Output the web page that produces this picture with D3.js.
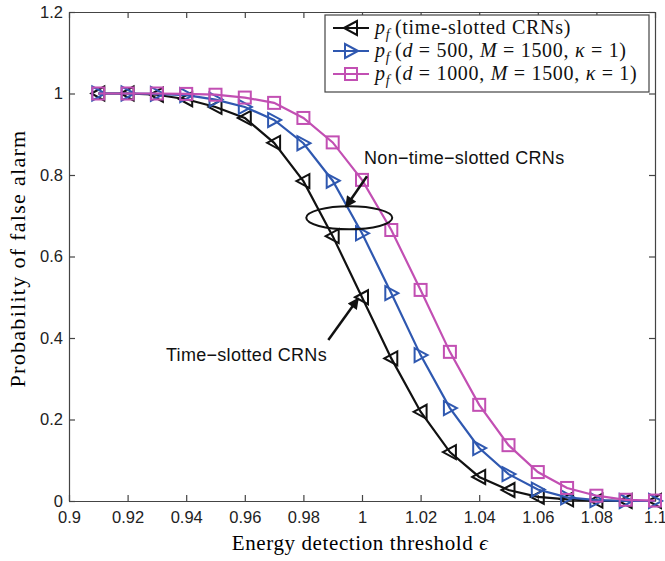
<!DOCTYPE html>
<html lang="en">
<head>
  <meta charset="utf-8">
  <title>Probability of false alarm</title>
  <style>
    body { margin: 0; background: #fff; overflow: hidden; }
    svg { display: block; }
  </style>
</head>
<body>
  <script src="https://d3js.org/d3.v7.min.js"></script>
  <svg width="665" height="561"></svg>
  <script>
    // threshold values
    var eps = [0.91, 0.92, 0.93, 0.94, 0.95, 0.96, 0.97, 0.98, 0.99, 1.00,
               1.01, 1.02, 1.03, 1.04, 1.05, 1.06, 1.07, 1.08, 1.09, 1.10];
    var pfSlotted = [1, 1, 0.997, 0.986, 0.967, 0.94, 0.879, 0.785, 0.65, 0.5,
                     0.35, 0.219, 0.12, 0.059, 0.027, 0.01, 0.004, 0.001, 0, 0];
    var pfD500 = [1, 1, 0.999, 0.996, 0.985, 0.967, 0.935, 0.878, 0.786, 0.657,
                  0.51, 0.358, 0.228, 0.13, 0.066, 0.028, 0.009, 0.002, 0, 0];
    var pfD1000 = [1, 1, 1, 0.999, 0.997, 0.99, 0.977, 0.94, 0.88, 0.788,
                   0.665, 0.518, 0.366, 0.236, 0.137, 0.071, 0.032, 0.013, 0.003, 0.001];
    var xTicks = [0.9, 0.92, 0.94, 0.96, 0.98, 1, 1.02, 1.04, 1.06, 1.08, 1.1];
    var yTicks = [0, 0.2, 0.4, 0.6, 0.8, 1, 1.2];

    var series = [
      { values: pfSlotted, color: "#111111", marker: "left" },
      { values: pfD500, color: "#2f58b0", marker: "right" },
      { values: pfD1000, color: "#c24fb3", marker: "square" }
    ];

    const margin = { left: 69, right: 10, top: 12, bottom: 60 };
    const svg = d3.select("svg");
    const width = +svg.attr("width");
    const height = +svg.attr("height");
    const innerWidth = width - margin.left - margin.right;
    const innerHeight = height - margin.top - margin.bottom;

    var x = d3.scaleLinear().domain([0.9, 1.1]).range([0, innerWidth]);
    var y = d3.scaleLinear().domain([0, 1.2]).range([innerHeight, 0]);

    var g = svg.append("g").attr("transform", "translate(" + margin.left + "," + margin.top + ")");

    var axisColor = "#444";
    var serif = "\"Liberation Serif\", \"Times New Roman\", serif";
    var sans = "\"Liberation Sans\", Arial, sans-serif";
    var fmt = function (d) { return d3.format("~g")(d); };

    // axes with inward ticks on all four sides
    var xAxisG = g.append("g").attr("transform", "translate(0," + innerHeight + ")")
      .call(d3.axisBottom(x).tickValues(xTicks).tickFormat(fmt).tickSizeInner(-6).tickSizeOuter(0).tickPadding(10));
    var yAxisG = g.append("g")
      .call(d3.axisLeft(y).tickValues(yTicks).tickFormat(fmt).tickSizeInner(-6).tickSizeOuter(0).tickPadding(6));
    g.append("g")
      .call(d3.axisTop(x).tickValues(xTicks).tickSizeInner(-6).tickSizeOuter(0))
      .selectAll("text").remove();
    g.append("g").attr("transform", "translate(" + innerWidth + ",0)")
      .call(d3.axisRight(y).tickValues(yTicks).tickSizeInner(-6).tickSizeOuter(0))
      .selectAll("text").remove();
    g.selectAll(".domain, .tick line").attr("stroke", axisColor).attr("stroke-width", 1.2);
    [xAxisG, yAxisG].forEach(function (a) {
      a.attr("font-size", 16.5).attr("font-family", sans);
      a.selectAll("text").attr("fill", "#222");
    });

    var line = d3.line()
      .x(function (d, i) { return x(eps[i]); })
      .y(function (d) { return y(d); });

    function drawMarker(sel, type, color) {
      if (type === "square") {
        sel.append("rect").attr("x", -6).attr("y", -6).attr("width", 12).attr("height", 12)
          .attr("fill", "none").attr("stroke", color).attr("stroke-width", 2);
      } else {
        var pts = type === "left" ? "-7,0 6,-7 6,7" : "7,0 -6,-7 -6,7";
        sel.append("polygon").attr("points", pts)
          .attr("fill", "none").attr("stroke", color).attr("stroke-width", 2);
      }
    }

    series.forEach(function (s) {
      g.append("path").datum(s.values)
        .attr("fill", "none").attr("stroke", s.color).attr("stroke-width", 2.2)
        .attr("d", line);
      g.selectAll(null).data(s.values).enter().append("g")
        .attr("transform", function (d, i) { return "translate(" + x(eps[i]) + "," + y(d) + ")"; })
        .each(function () { drawMarker(d3.select(this), s.marker, s.color); });
    });

    // annotations
    svg.append("defs").append("marker").attr("id", "arr").attr("viewBox", "0 0 10 10")
      .attr("refX", 9).attr("refY", 5).attr("markerWidth", 5.5).attr("markerHeight", 4.5)
      .attr("orient", "auto").append("path").attr("d", "M0,0 L10,5 L0,10 Z").attr("fill", "#111");

    var ann = g.append("g").attr("font-family", sans)
      .attr("font-size", 18).attr("fill", "#111");
    ann.append("ellipse")
      .attr("cx", x(0.99565)).attr("cy", y(0.695))
      .attr("rx", 43).attr("ry", 11.5)
      .attr("fill", "none").attr("stroke", "#111").attr("stroke-width", 2);
    ann.append("line")
      .attr("x1", x(1.0017)).attr("y1", y(0.797)).attr("x2", x(0.9945)).attr("y2", y(0.722))
      .attr("stroke", "#111").attr("stroke-width", 2.5).attr("marker-end", "url(#arr)");
    ann.append("text").attr("x", x(1.0007)).attr("y", y(0.826)).attr("letter-spacing", 0.3)
      .text("Non\u2212time\u2212slotted CRNs");

    ann.append("line")
      .attr("x1", x(0.9885)).attr("y1", y(0.395)).attr("x2", x(0.9987)).attr("y2", y(0.497))
      .attr("stroke", "#111").attr("stroke-width", 2.5).attr("marker-end", "url(#arr)");
    ann.append("text").attr("x", x(0.9331)).attr("y", y(0.343)).attr("letter-spacing", 0.3)
      .text("Time\u2212slotted CRNs");

    // axis titles
    svg.append("text")
      .attr("x", margin.left + innerWidth / 2 - 2).attr("y", 550)
      .attr("text-anchor", "middle")
      .attr("font-family", serif).attr("font-size", 21).attr("letter-spacing", 0.6)
      .html("Energy detection threshold <tspan font-style='italic'>\u03f5</tspan>");
    svg.append("text")
      .attr("transform", "translate(25," + (margin.top + innerHeight / 2 + 2) + ") rotate(-90)")
      .attr("text-anchor", "middle")
      .attr("font-family", serif).attr("font-size", 22).attr("letter-spacing", 1.3)
      .text("Probability of false alarm");

    // legend
    var legendLabels = [
      [["p", "i"], ["f", "sub"], ["\u2009(time-slotted CRNs)", "n"]],
      [["p", "i"], ["f", "sub"], ["\u2009(", "n"], ["d", "i"], [" = 500, ", "n"], ["M", "i"], [" = 1500, ", "n"], ["\u03ba", "i"], [" = 1)", "n"]],
      [["p", "i"], ["f", "sub"], ["\u2009(", "n"], ["d", "i"], [" = 1000, ", "n"], ["M", "i"], [" = 1500, ", "n"], ["\u03ba", "i"], [" = 1)", "n"]]
    ];
    var lx = 325 - margin.left, ly = 15 - margin.top;
    var legend = g.append("g").attr("transform", "translate(" + lx + "," + ly + ")");
    legend.append("rect").attr("width", 324).attr("height", 77)
      .attr("fill", "#fff").attr("stroke", axisColor).attr("stroke-width", 1.2);
    series.forEach(function (s, k) {
      var row = legend.append("g").attr("transform", "translate(0," + (13 + k * 23) + ")");
      row.append("line").attr("x1", 8).attr("x2", 44).attr("stroke", s.color).attr("stroke-width", 2.2);
      drawMarker(row.append("g").attr("transform", "translate(26,0)"), s.marker, s.color);
      var t = row.append("text").attr("x", 50).attr("y", 6)
        .attr("font-family", serif).attr("font-size", 20).attr("letter-spacing", 0.7).attr("fill", "#111");
      var prevSub = false;
      legendLabels[k].forEach(function (p) {
        var ts = t.append("tspan").text(p[0]);
        if (p[1] === "i") ts.attr("font-style", "italic");
        if (p[1] === "sub") {
          ts.attr("font-style", "italic").attr("font-size", 14).attr("dy", 5);
        } else if (prevSub) {
          ts.attr("dy", -5);
        }
        prevSub = p[1] === "sub";
      });
    });
  </script>
</body>
</html>
